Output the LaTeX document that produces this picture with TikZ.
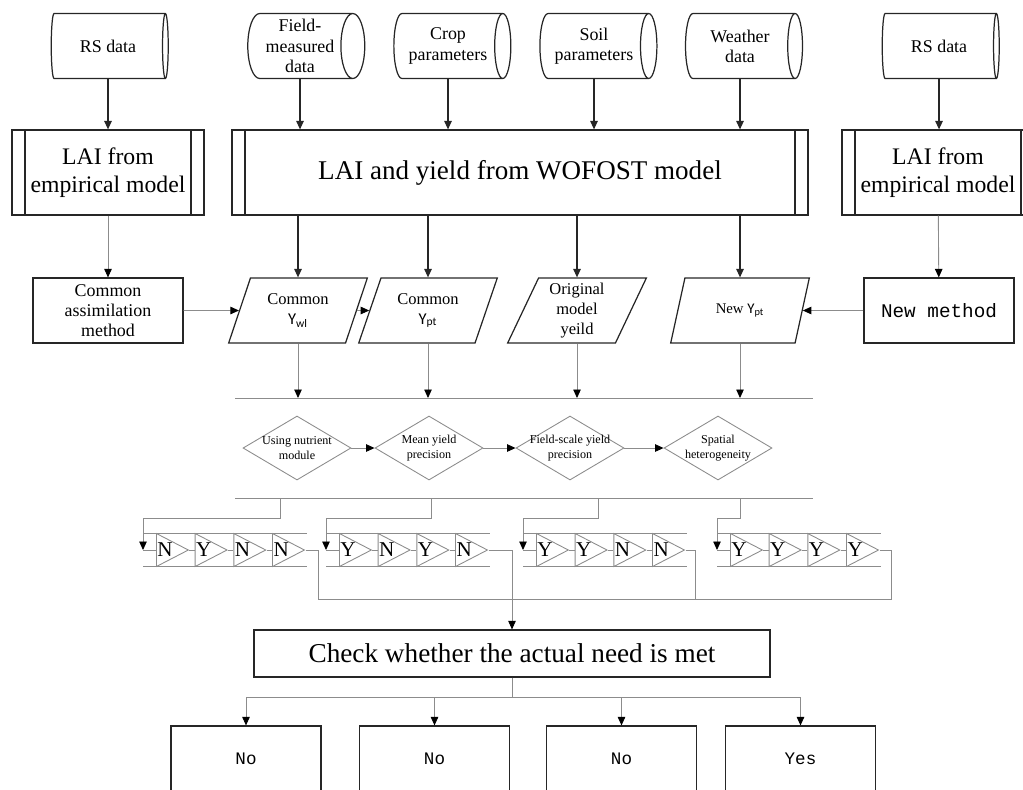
\documentclass[tikz,border=0pt]{standalone}
\usepackage{fontspec}
\setmainfont{Liberation Serif}
\setmonofont{Liberation Mono}
\newfontfamily\ysans{Carlito}
\usepackage{tikz}
\usetikzlibrary{arrows.meta}
\usetikzlibrary{shapes.geometric}

\newcommand{\Ysub}[1]{{\ysans Y\textsubscript{#1}}}

\begin{document}
\begin{tikzpicture}[x=0.02cm,y=-0.02cm,
    blk/.style={draw=black!85,line width=0.7pt},
    gry/.style={draw=black!45,line width=0.5pt},
    arr/.style={blk,-{Triangle[length=1.7mm,width=1.5mm]}},
    garr/.style={gry,-{Triangle[length=1.7mm,width=1.5mm,color=black]}},
    store/.style={cylinder,blk,aspect=0.45,minimum height=2.34cm,minimum width=1.3cm,inner sep=0pt,align=center,font=\fontsize{10.2}{11.5}\selectfont},
    predef/.style={rectangle,blk,minimum height=1.7cm,align=center,
        path picture={\draw[blk] ([xshift=0.26cm]path picture bounding box.north west) -- ([xshift=0.26cm]path picture bounding box.south west);
                      \draw[blk] ([xshift=-0.26cm]path picture bounding box.north east) -- ([xshift=-0.26cm]path picture bounding box.south east);}},
    proc/.style={rectangle,blk,minimum width=3cm,minimum height=1.3cm,align=center},
    para/.style={trapezium,trapezium left angle=68,trapezium right angle=112,trapezium stretches,blk,minimum width=2.78cm,minimum height=1.3cm,inner sep=1pt,align=center,font=\fontsize{9.4}{11.3}\selectfont},
    crit/.style={diamond,gry,minimum width=2.16cm,minimum height=1.28cm,inner sep=-9pt,align=center,font=\fontsize{6.9}{8.3}\selectfont},
    tri/.style={isosceles triangle,isosceles triangle stretches,gry,minimum height=0.48cm,minimum width=0.66cm,inner sep=0pt,font=\fontsize{12}{12}\selectfont},
    ans/.style={rectangle,blk,minimum width=3cm,minimum height=1.32cm,font=\ttfamily\fontsize{10}{12}\selectfont}]
    \useasboundingbox (0,0) rectangle (1023,789);
    % inputs
    \node[store] (rs1) at (108,46) {RS data};
    \node[store] (field) at (300,46) {Field-\\measured\\data};
    \node[store] (crop) at (448,46) {Crop\\parameters};
    \node[store] (soil) at (594,46) {Soil\\parameters};
    \node[store] (wea) at (740,46) {Weather\\data};
    \node[store] (rs2) at (939,46) {RS data};
    % models
    \node[predef,minimum width=3.84cm,font=\fontsize{13.5}{16}\selectfont] (lai1) at (108,172.5) {LAI from\\empirical model};
    \node[predef,minimum width=11.52cm,font=\fontsize{15.4}{18}\selectfont] (wof) at (520,172.5) {LAI and yield from WOFOST model};
    \node[predef,minimum width=3.84cm,font=\fontsize{13.5}{16}\selectfont] (lai2) at (938,172.5) {LAI from\\empirical model};
    \foreach \s/\t in {rs1/lai1,field/wof,crop/wof,soil/wof,wea/wof,rs2/lai2}
        \draw[arr] (\s.south) -- (\s.south |- \t.north);
    % yields
    \node[proc,font=\fontsize{10.2}{11.3}\selectfont] (assim) at (108,310.5) {Common\\assimilation\\method};
    \node[para] (ywl) at (298,310.5) {Common\\\Ysub{wl}};
    \node[para] (ypt) at (428,310.5) {Common\\\Ysub{pt}};
    \node[para] (orig) at (577,310.5) {Original\\model\\yeild};
    \node[para,font=\fontsize{8.4}{10}\selectfont] (nypt) at (740,310.5) {New \Ysub{pt}};
    \node[proc,font=\ttfamily\fontsize{11}{12}\selectfont] (nm) at (939,310.5) {New method};
    \draw[garr] (lai1) -- (assim);
    \draw[garr] (lai2) -- (nm);
    \foreach \p in {ywl,ypt,orig,nypt}
        \draw[arr] (\p.north |- wof.south) -- (\p.north);
    \draw[garr] (assim) -- (ywl);
    \draw[garr] (ywl) -- (ypt);
    \draw[garr] (nm) -- (nypt);
    % criteria
    \coordinate (busA) at (235,398);
    \coordinate (busAe) at (813,398);
    \coordinate (busB) at (235,498);
    \coordinate (busBe) at (813,498);
    \draw[gry] (busA) -- (busAe);
    \draw[gry] (busB) -- (busBe);
    \foreach \p in {ywl,ypt,orig,nypt}
        \draw[garr] (\p.south) -- (\p.south |- busA);
    \node[crit] (c1) at (297,448) {Using nutrient\\module};
    \node[crit] (c2) at (429,448) {Mean yield\\precision};
    \node[crit] (c3) at (570,448) {Field-scale yield\\precision};
    \node[crit] (c4) at (718,448) {Spatial\\heterogeneity};
    \draw[garr] (c1) -- (c2);
    \draw[garr] (c2) -- (c3);
    \draw[garr] (c3) -- (c4);
    % Y/N chains
    \foreach \r/\x/\d/\la/\lb/\lc/\ld in {1/156/280/N/Y/N/N,2/339/431/Y/N/Y/N,3/536/598/Y/Y/N/N,4/730/740/Y/Y/Y/Y} {
        \foreach \l [count=\i] in {\la,\lb,\lc,\ld}
            \node[tri,anchor=lower side] (t\r\i) at ({\x+(\i-1)*38.7},550) {\l};
        \coordinate (d\r) at (\d,498);
        \coordinate (in\r) at (\x-13,550);
        \draw[gry] (\x-13,533) -- (\x+151,533);
        \draw[gry] (\x-13,566) -- (\x+151,566);
        \draw[garr] (d\r) -- ++(0,20) -| (in\r);
        \draw[gry] (in\r) -- (t\r1.lower side);
        \draw[gry] (t\r1.apex) -- (t\r2.lower side);
        \draw[gry] (t\r2.apex) -- (t\r3.lower side);
        \draw[gry] (t\r3.apex) -- (t\r4.lower side);
    }
    % check
    \node[rectangle,blk,minimum width=10.32cm,minimum height=0.94cm,font=\fontsize{15.5}{18}\selectfont] (chk) at (512,653.5) {Check whether the actual need is met};
    \coordinate (j1) at (318,599);
    \coordinate (j3) at (695,599);
    \coordinate (j4) at (891,599);
    \draw[gry] (t14.apex) -| (j1) -- (j4) |- (t44.apex);
    \draw[gry] (t34.apex) -| (j3);
    \draw[garr] (t24.apex) -| (chk.north);
    % answers
    \node[ans] (a1) at (246,759) {No};
    \node[ans] (a2) at (434.5,759) {No};
    \node[ans] (a3) at (621.5,759) {No};
    \node[ans] (a4) at (800.5,759) {Yes};
    \coordinate (split) at (512,697);
    \draw[gry] (chk.south) -- (split);
    \foreach \a in {a1,a2,a3,a4}
        \draw[garr] (split) -| (\a.north);
\end{tikzpicture}
\end{document}
